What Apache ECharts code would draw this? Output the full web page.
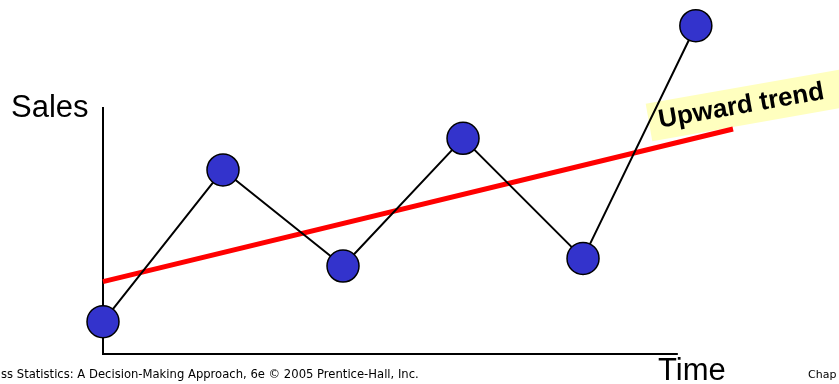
<!DOCTYPE html>
<html>
<head>
<meta charset="utf-8">
<title>Upward trend</title>
<script src="https://cdn.jsdelivr.net/npm/echarts@6/dist/echarts.min.js"></script>
<style>
  html, body { margin: 0; padding: 0; background: #ffffff; }
  #chart { width: 839px; height: 384px; }
</style>
</head>
<body>
<div id="chart"></div>
<script>
// Sales observed over successive time periods
var timePoints = [0, 1, 2, 3, 4, 4.94];
var salesValues = [1.31, 7.45, 3.56, 8.73, 3.87, 13.29];

// Straight trend line through the series (start and end)
var trendTime = [0, 5.25];
var trendSales = [2.93, 9.11];

// Drawn axes: the time axis runs to 4.79, the sales axis up to 10
var timeAxisEnd = 4.79;
var salesAxisTop = 10;

// Plot extent (leaves room for the points and the trend line beyond the axes)
var timeExtent = [0, 6.133];
var salesExtent = [0, 14.33];

var chart = echarts.init(document.getElementById('chart'), null, { renderer: 'canvas' });

function pairs(xs, ys) {
  return xs.map(function (x, i) { return [x, ys[i]]; });
}

var hiddenAxis = {
  type: 'value',
  axisLine: { show: false },
  axisTick: { show: false },
  axisLabel: { show: false },
  splitLine: { show: false }
};

chart.setOption({
  animation: false,
  backgroundColor: '#ffffff',
  grid: { left: 103, top: 0, width: 736, height: 354, containLabel: false },
  xAxis: Object.assign({}, hiddenAxis, { min: timeExtent[0], max: timeExtent[1] }),
  yAxis: Object.assign({}, hiddenAxis, { min: salesExtent[0], max: salesExtent[1] }),
  graphic: [
    {
      type: 'text',
      z: 0,
      x: 649,
      y: 122.5,
      rotation: 10 * Math.PI / 180,
      style: {
        text: 'Upward trend',
        font: 'bold 26px "Liberation Sans", Arial, sans-serif',
        fill: '#000000',
        align: 'left',
        verticalAlign: 'middle',
        backgroundColor: '#ffffbf',
        padding: [6, 24, 6, 10]
      }
    },
    {
      type: 'text',
      x: 11,
      y: 108,
      style: {
        text: 'Sales',
        font: '31px "Liberation Sans", Arial, sans-serif',
        fill: '#000000',
        align: 'left',
        verticalAlign: 'middle'
      }
    },
    {
      type: 'text',
      x: 658,
      y: 371,
      style: {
        text: 'Time',
        font: '31px "Liberation Sans", Arial, sans-serif',
        fill: '#000000',
        align: 'left',
        verticalAlign: 'middle'
      }
    },
    {
      type: 'text',
      x: 1,
      y: 375,
      style: {
        text: 'ss Statistics: A Decision-Making Approach, 6e \u00a9 2005 Prentice-Hall, Inc.',
        font: '11.6px "DejaVu Sans", sans-serif',
        fill: '#000000',
        align: 'left',
        verticalAlign: 'middle'
      }
    },
    {
      type: 'text',
      x: 808,
      y: 375,
      style: {
        text: 'Chap',
        font: '11px "DejaVu Sans", sans-serif',
        fill: '#000000',
        align: 'left',
        verticalAlign: 'middle'
      }
    }
  ],
  series: [
    {
      name: 'Axes',
      type: 'line',
      z: 1,
      silent: true,
      symbol: 'none',
      data: [[0, salesAxisTop], [0, 0], [timeAxisEnd, 0]],
      lineStyle: { color: '#000000', width: 2, join: 'miter', cap: 'butt' }
    },
    {
      name: 'Trend',
      type: 'line',
      z: 3,
      silent: true,
      symbol: 'none',
      data: pairs(trendTime, trendSales),
      lineStyle: { color: '#ff0000', width: 5, cap: 'butt' }
    },
    {
      name: 'Sales',
      type: 'line',
      z: 4,
      symbol: 'circle',
      symbolSize: 32,
      data: pairs(timePoints, salesValues),
      lineStyle: { color: '#000000', width: 2 },
      itemStyle: { color: '#3333cc', borderColor: '#000000', borderWidth: 1.5 }
    }
  ]
});
</script>
</body>
</html>
